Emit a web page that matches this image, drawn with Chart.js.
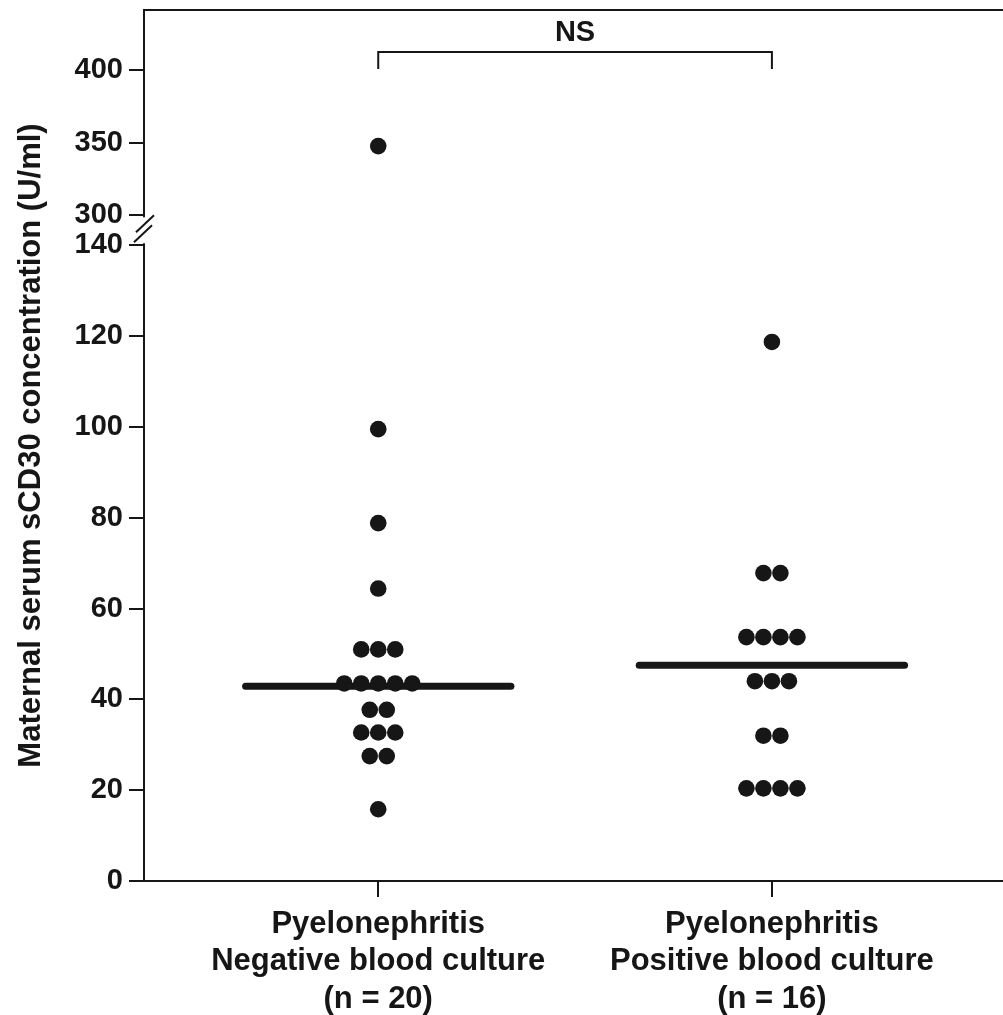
<!DOCTYPE html>
<html>
<head>
<meta charset="utf-8">
<script src="https://cdn.jsdelivr.net/npm/chart.js@4.4.1/dist/chart.umd.min.js"></script>
<style>
  html, body { margin: 0; padding: 0; background: #fff; overflow: hidden; }
  #wrap { width: 1003px; height: 1015px; position: relative; }
</style>
</head>
<body>
<div id="wrap"><canvas id="dotChart"></canvas></div>
<script>
// groups on the x axis
const groupLabels = [
  ["Pyelonephritis", "Negative blood culture", "(n = 20)"],
  ["Pyelonephritis", "Positive blood culture", "(n = 16)"],
];
// sCD30 (U/ml) per patient
const negativeValues = [347.6, 99.5, 78.8, 64.4, 51.0, 51.0, 51.0, 43.5, 43.5, 43.5, 43.5, 43.5,
  37.7, 37.7, 32.7, 32.7, 32.7, 27.5, 27.5, 15.8];
const positiveValues = [118.7, 67.8, 67.8, 53.7, 53.7, 53.7, 53.7, 44.0, 44.0, 44.0,
  32.0, 32.0, 20.4, 20.4, 20.4, 20.4];
const medianValues = [42.9, 47.5];
const yTickValues = [0, 20, 40, 60, 80, 100, 120, 140, 300, 350, 400];
const sigLabel = "NS";

const INK = "#161616";
const FONT = "'Liberation Sans', Arial, sans-serif";

// broken axis: 0-140 full scale, 300-400 squeezed above a small gap
const BREAK_LOW = 140;
const BREAK_HIGH = 300;
const BREAK_GAP = 6.6;
const UPPER_SCALE = 0.32;
function toAxis(v) {
  if (v <= BREAK_LOW) return v;
  return BREAK_LOW + BREAK_GAP + (v - BREAK_HIGH) * UPPER_SCALE;
}
function fromAxis(a) {
  if (a <= BREAK_LOW + 0.01) return a;
  return BREAK_HIGH + (a - BREAK_LOW - BREAK_GAP) / UPPER_SCALE;
}

// tied values sit side by side, centred on the group
const DOT_STEP = 0.0432;
function swarm(values, center) {
  const counts = {};
  values.forEach((v) => (counts[v] = (counts[v] || 0) + 1));
  const seen = {};
  return values.map((v) => {
    const n = counts[v];
    const i = seen[v] || 0;
    seen[v] = i + 1;
    return { x: center + (i - (n - 1) / 2) * DOT_STEP, y: toAxis(v) };
  });
}

const MEDIAN_HALF = 0.337;
function medianLine(i) {
  const c = i + 1;
  return [
    { x: c - MEDIAN_HALF, y: toAxis(medianValues[i]) },
    { x: c + MEDIAN_HALF, y: toAxis(medianValues[i]) },
  ];
}

// top frame, axis break marks and the NS bracket
const extrasPlugin = {
  id: "extras",
  afterDraw(chart) {
    const ctx = chart.ctx;
    const { left, right, top } = chart.chartArea;
    const xs = chart.scales.x;
    const ys = chart.scales.y;
    ctx.save();
    ctx.strokeStyle = INK;
    ctx.lineWidth = 2;

    ctx.beginPath();
    ctx.moveTo(left, top);
    ctx.lineTo(right, top);
    ctx.stroke();

    const yHi = ys.getPixelForValue(toAxis(BREAK_HIGH));
    const yLo = ys.getPixelForValue(toAxis(BREAK_LOW));
    ctx.fillStyle = "#fff";
    ctx.fillRect(left - 3, yHi + 2, 6, yLo - yHi - 4);
    ctx.beginPath();
    ctx.moveTo(left - 8, yHi + 17);
    ctx.lineTo(left + 10, yHi + 0);
    ctx.moveTo(left - 10, yHi + 27);
    ctx.lineTo(left + 8, yHi + 10);
    ctx.stroke();

    const x1 = xs.getPixelForValue(1);
    const x2 = xs.getPixelForValue(2);
    const legBottom = ys.getPixelForValue(toAxis(400)) - 1;
    const barY = legBottom - 17;
    ctx.beginPath();
    ctx.moveTo(x1, legBottom);
    ctx.lineTo(x1, barY);
    ctx.lineTo(x2, barY);
    ctx.lineTo(x2, legBottom);
    ctx.stroke();

    ctx.fillStyle = INK;
    ctx.font = "bold 29px " + FONT;
    ctx.textAlign = "center";
    ctx.textBaseline = "middle";
    ctx.fillText(sigLabel, (x1 + x2) / 2, barY - 19);
    ctx.restore();
  },
};

const dotStyle = {
  pointRadius: 8.3,
  pointHoverRadius: 8.3,
  pointBackgroundColor: INK,
  pointBorderWidth: 0,
  showLine: false,
  order: 0,
};
const medianStyle = {
  showLine: true,
  borderColor: INK,
  borderWidth: 7,
  borderCapStyle: "round",
  pointRadius: 0,
  order: 1,
};

new Chart(document.getElementById("dotChart"), {
  type: "scatter",
  data: {
    datasets: [
      { label: "Negative", data: swarm(negativeValues, 1), ...dotStyle },
      { label: "Positive", data: swarm(positiveValues, 2), ...dotStyle },
      { label: "Median negative", data: medianLine(0), ...medianStyle },
      { label: "Median positive", data: medianLine(1), ...medianStyle },
    ],
  },
  options: {
    responsive: true,
    maintainAspectRatio: false,
    animation: false,
    layout: { autoPadding: false, padding: { top: 10, left: 0, right: 0, bottom: 0 } },
    plugins: {
      legend: { display: false },
      tooltip: { enabled: false },
    },
    scales: {
      x: {
        type: "linear",
        min: 0.405,
        max: 2.587,
        afterBuildTicks: (s) => {
          s.ticks = groupLabels.map((_, i) => ({ value: i + 1 }));
        },
        afterFit: (s) => {
          s.height = 134;
          s.paddingLeft = 0;
          s.paddingRight = 0;
        },
        ticks: {
          autoSkip: false,
          maxRotation: 0,
          padding: 9,
          color: INK,
          font: { family: FONT, size: 31, weight: "bold", lineHeight: 1.2 },
          callback: (v, i) => groupLabels[i],
        },
        grid: { drawOnChartArea: false, tickLength: 16, color: INK, lineWidth: 2 },
        border: { color: INK, width: 2 },
      },
      y: {
        type: "linear",
        min: 0,
        max: 191.8,
        afterBuildTicks: (s) => {
          s.ticks = yTickValues.map((v) => ({ value: toAxis(v) }));
        },
        afterFit: (s) => {
          s.width = 144;
          s.paddingTop = 0;
          s.paddingBottom = 0;
        },
        ticks: {
          autoSkip: false,
          padding: 6,
          color: INK,
          font: { family: FONT, size: 29, weight: "bold" },
          callback: (v) => Math.round(fromAxis(v)),
        },
        grid: { drawOnChartArea: false, tickLength: 15, color: INK, lineWidth: 2 },
        border: { color: INK, width: 2 },
        title: {
          display: true,
          text: "Maternal serum sCD30 concentration (U/ml)",
          color: INK,
          font: { family: FONT, size: 31, weight: "bold" },
          padding: { top: 13, bottom: 0 },
        },
      },
    },
  },
  plugins: [extrasPlugin],
});
</script>
</body>
</html>
